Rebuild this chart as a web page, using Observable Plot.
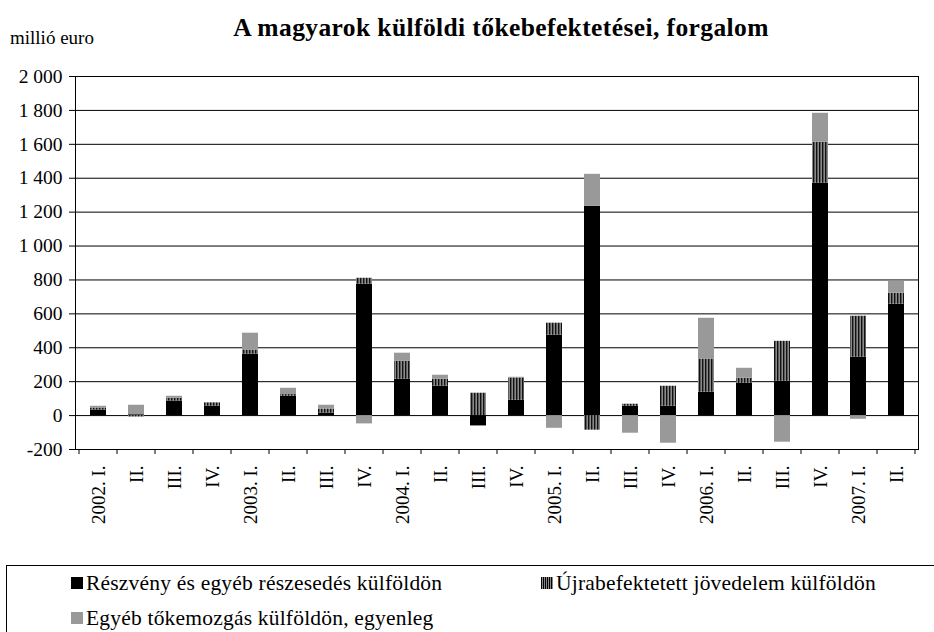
<!DOCTYPE html>
<html>
<head>
<meta charset="utf-8">
<script src="https://cdn.jsdelivr.net/npm/d3@7"></script>
<script src="https://cdn.jsdelivr.net/npm/@observablehq/plot@0.6"></script>
<style>
  body { margin: 0; background: #fff; font-family: "Liberation Serif", "Times New Roman", serif; }
  #wrap { position: relative; width: 934px; height: 632px; overflow: hidden; }
  #title { position: absolute; left: 0; width: 1002px; top: 13px; text-align: center; font-weight: bold; font-size: 25.5px; letter-spacing: 0.4px; line-height: 30px; }
  #unit { position: absolute; left: 10px; top: 27px; font-size: 19px; line-height: 22px; }
  #chart { position: absolute; left: 0; top: 0; }
  #legend { position: absolute; left: 6px; top: 565px; width: 940px; height: 80px; border: 1px solid #000; box-sizing: border-box; font-size: 21.5px; letter-spacing: 0.2px; }
  .item { position: absolute; display: flex; align-items: center; white-space: nowrap; line-height: 24px; }
  .sw { width: 12px; height: 12px; margin-right: 3px; flex: none; }
</style>
</head>
<body>
<div id="wrap">
  <div id="chart"></div>
  <div id="title">A magyarok külföldi tőkebefektetései, forgalom</div>
  <div id="unit">millió euro</div>
  <div id="legend">
    <div class="item" style="left:64px; top:5px;"><div class="sw" style="background:#000"></div>Részvény és egyéb részesedés külföldön</div>
    <div class="item" style="left:534px; top:5px;"><svg class="sw" width="12" height="12"><rect width="12" height="12" fill="#888"/><g stroke="#000" stroke-width="1"><line x1="0.5" y1="0" x2="0.5" y2="12"/><line x1="2.5" y1="0" x2="2.5" y2="12"/><line x1="4.5" y1="0" x2="4.5" y2="12"/><line x1="6.5" y1="0" x2="6.5" y2="12"/><line x1="8.5" y1="0" x2="8.5" y2="12"/><line x1="10.5" y1="0" x2="10.5" y2="12"/></g></svg>Újrabefektetett jövedelem külföldön</div>
    <div class="item" style="left:64px; top:40px;"><div class="sw" style="background:#999"></div>Egyéb tőkemozgás külföldön, egyenleg</div>
  </div>
</div>
<script>
const quarterKeys = ["2002Q1","2002Q2","2002Q3","2002Q4","2003Q1","2003Q2","2003Q3","2003Q4","2004Q1","2004Q2","2004Q3","2004Q4","2005Q1","2005Q2","2005Q3","2005Q4","2006Q1","2006Q2","2006Q3","2006Q4","2007Q1","2007Q2"];
const quarterLabels = ["2002. I.","II.","III.","IV.","2003. I.","II.","III.","IV.","2004. I.","II.","III.","IV.","2005. I.","II.","III.","IV.","2006. I.","II.","III.","IV.","2007. I.","II."];
const seriesNames = ["Részvény és egyéb részesedés külföldön","Újrabefektetett jövedelem külföldön","Egyéb tőkemozgás külföldön, egyenleg"];
const reszveny = [33, 5, 86, 55, 362, 114, 15, 775, 214, 173, -61, 90, 474, 1235, 55, 55, 138, 191, 202, 1370, 344, 657];
const ujrabefektetett = [12, -8, 16, 20, 25, 10, 24, 35, 106, 41, 132, 132, 71, -86, 12, 118, 196, 29, 236, 242, 242, 65];
const egyeb = [10, 56, 12, 0, 99, 37, 22, -49, 48, 24, 0, 4, -75, 188, -104, -163, 240, 59, -157, 171, -22, 70];
const yTicks = [-200, 0, 200, 400, 600, 800, 1000, 1200, 1400, 1600, 1800, 2000];

const seriesValues = [reszveny, ujrabefektetett, egyeb];
const data = [];
quarterKeys.forEach((q, i) => {
  seriesNames.forEach((s, j) => data.push({q, series: s, value: seriesValues[j][i]}));
});
const labelOf = new Map(quarterKeys.map((k, i) => [k, quarterLabels[i]]));
const fmt = d => (d < 0 ? "-" : "") + d3.format(",")(Math.abs(d)).replace(/,/g, " ");

const plot = Plot.plot({
  width: 934,
  height: 560,
  marginTop: 76,
  marginBottom: 111,
  marginLeft: 75,
  marginRight: 16,
  style: {fontFamily: "'Liberation Serif', 'Times New Roman', serif", fontSize: "19px", color: "#000", background: "transparent"},
  x: {domain: quarterKeys, paddingInner: 0.58, paddingOuter: 0.29, align: 0.5},
  y: {domain: [-200, 2000]},
  color: {domain: seriesNames, range: ["#000000", "url(#stripes)", "#999999"]},
  marks: [
    Plot.ruleY(yTicks, {stroke: "#000", strokeWidth: 1}),
    Plot.barY(data, Plot.stackY({x: "q", y: "value", fill: "series", order: null})),
    Plot.frame({stroke: "#000", strokeWidth: 1}),
    Plot.axisY({ticks: yTicks, tickFormat: fmt, tickSize: 6, tickPadding: 7, label: null, fontSize: 19.5}),
    Plot.axisX({tickFormat: d => labelOf.get(d), tickSize: 0, tickPadding: 16, tickRotate: -90, label: null, fontSize: 19})
  ]
});
document.getElementById("chart").appendChild(plot);

const svg = d3.select(plot);
const defs = svg.insert("defs", ":first-child");
const pat = defs.append("pattern").attr("id", "stripes").attr("patternUnits", "userSpaceOnUse").attr("width", 3).attr("height", 4);
pat.append("rect").attr("width", 3).attr("height", 4).attr("fill", "#8a8a8a");
pat.append("rect").attr("width", 1.4).attr("height", 4).attr("fill", "#111");

// boundary tick marks on the x axis, placed with the band scale
const xs = plot.scale("x");
const ys = plot.scale("y");
const step = xs.step;
const y0 = ys.apply(-200);
const g = svg.append("g").attr("stroke", "#000");
quarterKeys.forEach((k) => {
  const xl = xs.apply(k) - (step - xs.bandwidth) / 2;
  g.append("line").attr("x1", xl).attr("x2", xl).attr("y1", y0).attr("y2", y0 + 5);
});
const last = quarterKeys[quarterKeys.length - 1];
const xr = xs.apply(last) + xs.bandwidth + (step - xs.bandwidth) / 2;
g.append("line").attr("x1", xr).attr("x2", xr).attr("y1", y0).attr("y2", y0 + 5);
</script>
</body>
</html>
